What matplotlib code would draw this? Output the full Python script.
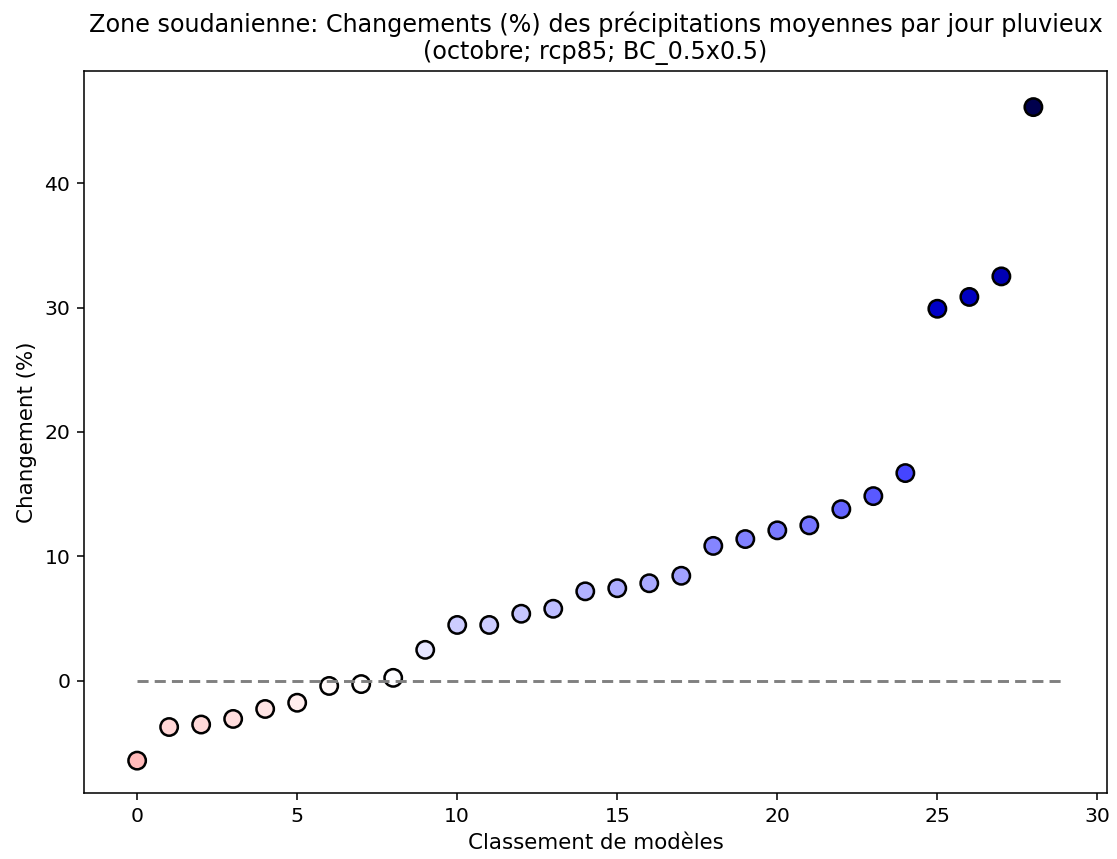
import numpy as np
import matplotlib.pyplot as plt
from matplotlib.colors import Normalize

# model ranking and change values (%)
rang = list(range(29))
changement = [-6.4, -3.7, -3.5, -3.05, -2.25, -1.75, -0.4, -0.25, 0.25, 2.5,
              4.5, 4.5, 5.4, 5.8, 7.2, 7.45, 7.85, 8.45, 10.85, 11.4,
              12.1, 12.5, 13.8, 14.85, 16.7, 29.9, 30.85, 32.5, 46.1]

titre = "Zone soudanienne: Changements (%) des précipitations moyennes par jour pluvieux\n(octobre; rcp85; BC_0.5x0.5)"

fig = plt.figure(figsize=(1117/140, 859/140), dpi=140)
ax = fig.add_axes([84/1117, 1-793/859, (1107-84)/1117, (793-71)/859])

vmax = np.max(np.abs(changement))
norm = Normalize(vmin=-vmax, vmax=vmax)
ax.scatter(rang, changement, c=changement, cmap='seismic_r', norm=norm,
           s=80, edgecolors='k', linewidths=1.3, zorder=2)
ax.hlines(0, 0, 28.9, colors='grey', linestyles=(0, (3.8, 2.1)), linewidth=1.5, zorder=3)

ax.set_xlim(-1.66, 30.3)
ax.set_ylim(-9.0, 49.0)
ax.set_xticks([0, 5, 10, 15, 20, 25, 30])
ax.set_yticks([0, 10, 20, 30, 40])
ax.tick_params(labelsize=10.5)
ax.set_xlabel("Classement de modèles", fontsize=11)
ax.set_ylabel("Changement (%)", fontsize=11)
ax.set_title(titre, fontsize=12.3)

fig.savefig("out.png", dpi=140)
